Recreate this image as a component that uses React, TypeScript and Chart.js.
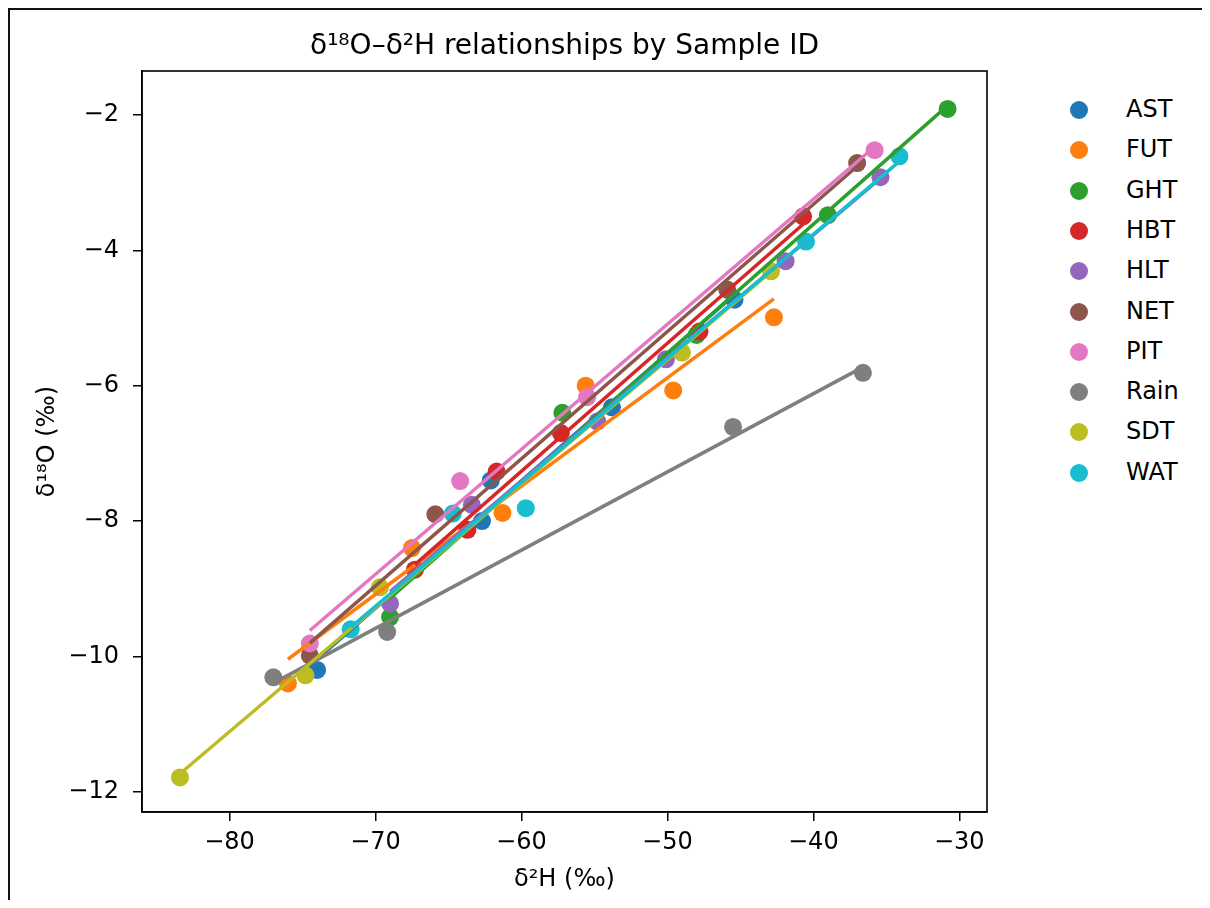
import React, { useEffect, useRef } from "react";
import { Chart, registerables } from "chart.js";
Chart.register(...registerables);

// ---- data (δ²H on x, δ¹⁸O on y) ----
const groups = ["AST", "FUT", "GHT", "HBT", "HLT", "NET", "PIT", "Rain", "SDT", "WAT"];
const colors = ["#1f77b4", "#ff7f0e", "#2ca02c", "#d62728", "#9467bd", "#8c564b", "#e377c2", "#7f7f7f", "#bcbd22", "#17becf"];

const astH = [-74.0, -62.7, -62.1, -53.8, -45.4];
const astO = [-10.2, -8.0, -7.4, -6.32, -4.73];
const futH = [-76.0, -67.5, -61.3, -55.6, -49.6, -42.7];
const futO = [-10.4, -8.4, -7.88, -6.0, -6.07, -4.99];
const ghtH = [-69.0, -57.2, -48.0, -39.0, -30.8];
const ghtO = [-9.42, -6.4, -5.25, -3.48, -1.91];
const hbtH = [-67.3, -63.7, -61.7, -57.3, -47.8, -40.7];
const hbtO = [-8.72, -8.13, -7.27, -6.7, -5.2, -3.5];
const hltH = [-69.0, -63.4, -54.8, -50.1, -41.9, -35.4];
const hltO = [-9.22, -7.76, -6.53, -5.61, -4.16, -2.92];
const netH = [-74.5, -65.9, -45.9, -37.0];
const netO = [-9.99, -7.9, -4.58, -2.71];
const pitH = [-74.5, -64.2, -55.5, -35.8];
const pitO = [-9.81, -7.41, -6.17, -2.52];
const rainH = [-77.0, -69.2, -45.5, -36.6];
const rainO = [-10.31, -9.64, -6.61, -5.81];
const sdtH = [-83.4, -74.8, -69.7, -49.0, -42.9];
const sdtO = [-11.79, -10.28, -8.98, -5.51, -4.31];
const watH = [-71.7, -64.7, -59.7, -40.5, -34.1];
const watO = [-9.6, -7.89, -7.81, -3.87, -2.61];

const seriesH = [astH, futH, ghtH, hbtH, hltH, netH, pitH, rainH, sdtH, watH];
const seriesO = [astO, futO, ghtO, hbtO, hltO, netO, pitO, rainO, sdtO, watO];

const xTicks = [-80, -70, -60, -50, -40, -30];
const yTicks = [-12, -10, -8, -6, -4, -2];
const xMin = -86.0, xMax = -28.1, yMin = -12.3, yMax = -1.35;

const titleText = "δ¹⁸O–δ²H relationships by Sample ID";
const xLabel = "δ²H (‰)";
const yLabel = "δ¹⁸O (‰)";

const FONT = "'DejaVu Sans', sans-serif";

function fitLine(xs: number[], ys: number[]) {
  const n = xs.length;
  const mx = xs.reduce((a, b) => a + b, 0) / n;
  const my = ys.reduce((a, b) => a + b, 0) / n;
  let sxx = 0, sxy = 0;
  for (let i = 0; i < n; i++) {
    sxx += (xs[i] - mx) * (xs[i] - mx);
    sxy += (xs[i] - mx) * (ys[i] - my);
  }
  const b = sxy / sxx;
  const a = my - b * mx;
  const lo = Math.min(...xs), hi = Math.max(...xs);
  return [{ x: lo, y: a + b * lo }, { x: hi, y: a + b * hi }];
}

const fmt = (v: any) => {
  const n = Number(v);
  return n < 0 ? "\u2212" + Math.abs(n) : String(n);
};

const framePlugin = {
  id: "frame",
  afterDraw(chart: any) {
    const { ctx, chartArea } = chart;
    ctx.save();
    ctx.strokeStyle = "#000";
    ctx.lineWidth = 1.6;
    ctx.strokeRect(chartArea.left, chartArea.top, chartArea.right - chartArea.left, chartArea.bottom - chartArea.top);
    ctx.restore();
  },
};

export default function App() {
  const ref = useRef<HTMLCanvasElement | null>(null);

  useEffect(() => {
    if (!ref.current) return;
    const scatterSets = groups.map((g, i) => ({
      type: "scatter" as const,
      label: g,
      data: seriesH[i].map((h, k) => ({ x: h, y: seriesO[i][k] })),
      backgroundColor: colors[i],
      borderColor: colors[i],
      borderWidth: 0,
      pointRadius: 9,
      pointHoverRadius: 9,
      order: 100 + (groups.length - 1 - i),
    }));
    const lineSets = groups.map((g, i) => ({
      type: "scatter" as const,
      label: g + " fit",
      data: fitLine(seriesH[i], seriesO[i]),
      showLine: true,
      borderColor: colors[i],
      backgroundColor: colors[i],
      borderWidth: 3.5,
      pointRadius: 0,
      pointHoverRadius: 0,
      order: groups.length - 1 - i,
    }));

    const tickFont = { family: FONT, size: 24 };
    const chart = new Chart(ref.current, {
      type: "scatter",
      data: { datasets: [...scatterSets, ...lineSets] as any },
      plugins: [framePlugin],
      options: {
        animation: false,
        responsive: false,
        devicePixelRatio: 1,
        events: [],
        layout: { padding: { top: 61, right: 23, left: 0, bottom: 0 } },
        plugins: {
          legend: { display: false },
          tooltip: { enabled: false },
          title: { display: false },
        },
        scales: {
          x: {
            type: "linear",
            min: xMin,
            max: xMax,
            afterBuildTicks: (s: any) => {
              s.ticks = xTicks.map((v) => ({ value: v }));
            },
            afterFit: (s: any) => {
              s.height = 88;
            },
            grid: { drawOnChartArea: false, drawTicks: true, tickLength: 9, color: "#000", lineWidth: 1.5 },
            border: { display: true, color: "#000", width: 1.6 },
            ticks: { color: "#000", font: tickFont, padding: 7, callback: fmt, maxRotation: 0, autoSkip: false },
            title: { display: true, text: xLabel, color: "#000", font: tickFont, padding: { top: 0, bottom: 6 } },
          },
          y: {
            type: "linear",
            min: yMin,
            max: yMax,
            afterBuildTicks: (s: any) => {
              s.ticks = yTicks.map((v) => ({ value: v }));
            },
            afterFit: (s: any) => {
              s.width = 132;
            },
            grid: { drawOnChartArea: false, drawTicks: true, tickLength: 9, color: "#000", lineWidth: 1.5 },
            border: { display: true, color: "#000", width: 1.6 },
            ticks: { color: "#000", font: tickFont, padding: 14, callback: fmt, autoSkip: false },
            title: { display: true, text: yLabel, color: "#000", font: tickFont, padding: { top: 23, bottom: 0 } },
          },
        },
      } as any,
    });
    return () => chart.destroy();
  }, []);

  return (
    <div
      style={{
        position: "relative",
        width: 1192,
        height: 890,
        borderTop: "2px solid #111",
        borderLeft: "2px solid #111",
        overflow: "hidden",
        background: "#fff",
      }}
    >
      <canvas ref={ref} width={1000} height={890} style={{ position: "absolute", left: 0, top: 0 }} />
      <div
        style={{
          position: "absolute",
          left: 132,
          width: 845,
          top: 19,
          textAlign: "center",
          fontFamily: FONT,
          fontSize: 28,
          lineHeight: "32px",
          color: "#000",
          whiteSpace: "nowrap",
        }}
      >
        {titleText}
      </div>
      {groups.map((g, i) => (
        <div key={g}>
          <div
            style={{
              position: "absolute",
              left: 1069 - 9,
              top: 100 + 40.3 * i - 9,
              width: 18,
              height: 18,
              borderRadius: "50%",
              background: colors[i],
            }}
          />
          <div
            style={{
              position: "absolute",
              left: 1116,
              top: 99 + 40.3 * i - 15,
              height: 30,
              lineHeight: "30px",
              fontFamily: FONT,
              fontSize: 24,
              color: "#000",
              whiteSpace: "nowrap",
            }}
          >
            {g}
          </div>
        </div>
      ))}
    </div>
  );
}
